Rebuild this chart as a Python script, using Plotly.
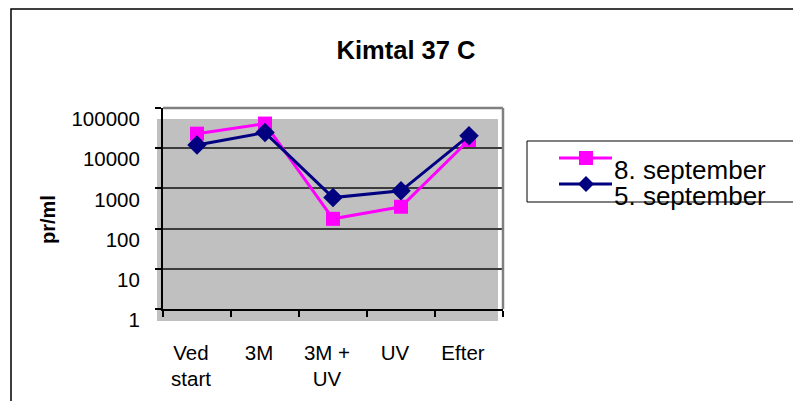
import plotly.graph_objects as go

categories = ["Ved<br>start", "3M", "3M +<br>UV", "UV", "Efter"]
sep8 = [23000, 41000, 175, 350, 16000]
sep5 = [12000, 24500, 590, 870, 20500]
ytickvals = [1, 10, 100, 1000, 10000, 100000]
yticktext = ["1", "10", "100", "1000", "10000", "100000"]
series_names = ["8. september", "5. september"]

OFF = 8  # page body margin
W, H = 801 - OFF, 401 - OFF
L, R, T, B = 163, 503, 108, 309  # plot area in reference pixels
PW, PH = R - L, B - T


def px(x):
    return (x - L) / PW


def py(y):
    return (B - y) / PH


FONT = "Liberation Sans, Arial, sans-serif"
PINK = "#FF00FF"
NAVY = "#000080"

fig = go.Figure()
fig.add_trace(go.Scatter(
    x=categories, y=sep8, mode="lines+markers", name=series_names[0],
    line=dict(color=PINK, width=3),
    marker=dict(symbol="square", size=14, color=PINK),
    showlegend=False, cliponaxis=False,
))
fig.add_trace(go.Scatter(
    x=categories, y=sep5, mode="lines+markers", name=series_names[1],
    line=dict(color=NAVY, width=3),
    marker=dict(symbol="diamond", size=15, color=NAVY),
    showlegend=False, cliponaxis=False,
))

shapes = []
# gray (offset) plot fill
shapes.append(dict(type="rect", xref="paper", yref="paper", layer="below",
                   x0=px(157), x1=px(498), y0=py(321), y1=py(119),
                   fillcolor="#C0C0C0", line=dict(width=0)))
# gray frame top and right
shapes.append(dict(type="line", xref="paper", yref="paper",
                   x0=px(163), x1=px(503), y0=py(108), y1=py(108),
                   line=dict(color="#808080", width=2.5)))
shapes.append(dict(type="line", xref="paper", yref="paper",
                   x0=px(503), x1=px(503), y0=py(108), y1=py(309),
                   line=dict(color="#808080", width=2.5)))
# outer chart border
shapes.append(dict(type="rect", xref="paper", yref="paper",
                   x0=px(11), x1=px(820), y0=py(420), y1=py(9),
                   line=dict(color="black", width=1.5), fillcolor="rgba(0,0,0,0)"))
# legend box
shapes.append(dict(type="rect", xref="paper", yref="paper",
                   x0=px(527), x1=px(820), y0=py(202), y1=py(141),
                   line=dict(color="black", width=1), fillcolor="white"))
# legend symbols
shapes.append(dict(type="line", xref="paper", yref="paper",
                   x0=px(559), x1=px(612), y0=py(158), y1=py(158),
                   line=dict(color=PINK, width=3)))
shapes.append(dict(type="rect", xref="paper", yref="paper",
                   x0=px(579), x1=px(593), y0=py(165), y1=py(151),
                   fillcolor=PINK, line=dict(width=0)))
shapes.append(dict(type="line", xref="paper", yref="paper",
                   x0=px(559), x1=px(612), y0=py(184), y1=py(184),
                   line=dict(color=NAVY, width=3)))
shapes.append(dict(type="path", xref="paper", yref="paper",
                   path=f"M {px(586)},{py(176)} L {px(594)},{py(184)} L {px(586)},{py(192)} L {px(578)},{py(184)} Z",
                   fillcolor=NAVY, line=dict(width=0)))

annotations = [
    dict(text="<b>pr/ml</b>", xref="paper", yref="paper", x=px(48), y=py(220),
         textangle=-90, showarrow=False, xanchor="center", yanchor="middle",
         font=dict(family=FONT, size=20, color="black")),
    dict(text=series_names[0], xref="paper", yref="paper", x=px(612), y=py(170),
         showarrow=False, xanchor="left", yanchor="middle",
         font=dict(family=FONT, size=26, color="black")),
    dict(text=series_names[1], xref="paper", yref="paper", x=px(612), y=py(196),
         showarrow=False, xanchor="left", yanchor="middle",
         font=dict(family=FONT, size=26, color="black")),
]

fig.update_layout(
    width=W, height=H,
    margin=dict(l=L - OFF, r=W - (R - OFF), t=T - OFF, b=H - (B - OFF), pad=0),
    paper_bgcolor="white", plot_bgcolor="rgba(0,0,0,0)",
    showlegend=False,
    title=dict(text="<b>Kimtal 37 C</b>", x=(406 - OFF) / W, xanchor="center",
               y=1 - (50 - OFF) / H, yanchor="middle",
               font=dict(family=FONT, size=25.5, color="black")),
    font=dict(family=FONT, size=20, color="black"),
    shapes=shapes, annotations=annotations,
)
fig.update_xaxes(
    type="category", range=[-0.5, 4.5], showgrid=False,
    showline=True, linecolor="black", linewidth=2,
    ticks="outside", tickson="boundaries", ticklen=6, tickcolor="black", tickwidth=1.5,
    tickfont=dict(family=FONT, size=20.5, color="black"),
    ticklabelstandoff=24, ticklabelshift=-6,
)
fig.update_yaxes(
    type="log", range=[0, 5], tickvals=ytickvals, ticktext=yticktext,
    showgrid=True, gridcolor="#3c3c3c", gridwidth=1.5,
    showline=True, linecolor="black", linewidth=2,
    ticks="outside", ticklen=6, tickcolor="black", tickwidth=1.5,
    tickfont=dict(family=FONT, size=20.5, color="black"),
    ticklabelstandoff=11, ticklabelshift=11,
)

fig.write_html("out.html")
